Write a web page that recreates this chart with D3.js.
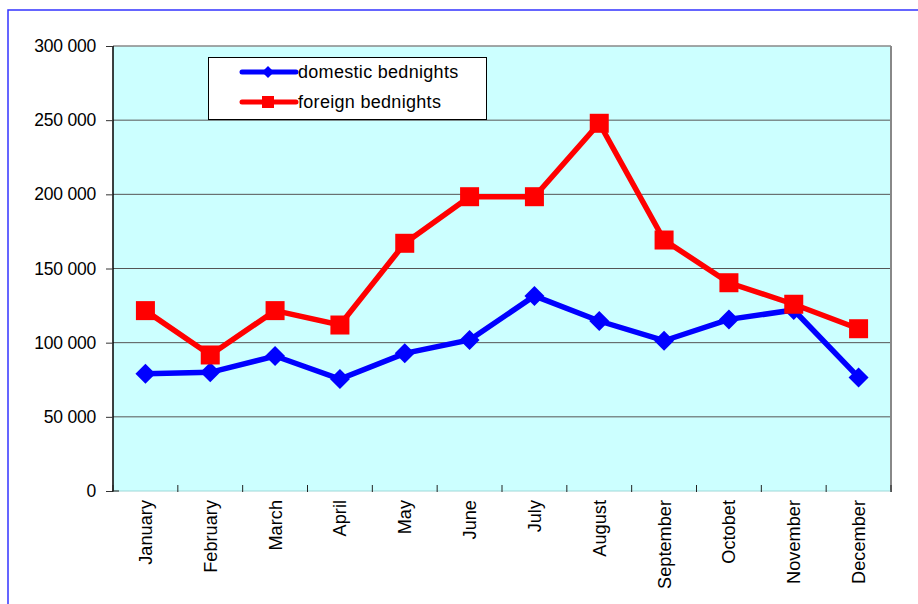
<!DOCTYPE html>
<html>
<head>
<meta charset="utf-8">
<script src="https://cdn.jsdelivr.net/npm/d3@7"></script>
<style>
  html, body { margin: 0; padding: 0; background: #fff; }
  svg { display: block; font-family: "Liberation Sans", Arial, sans-serif; }
</style>
</head>
<body>
<svg id="chart" width="918" height="604"></svg>
<script>
const months = ["January","February","March","April","May","June","July","August","September","Octobet","November","December"];
const domestic = [79000, 80000, 91000, 75500, 92800, 101800, 131500, 114600, 101300, 115700, 122000, 76600];
const foreign = [121600, 91700, 121600, 111900, 167000, 198400, 198400, 247900, 169200, 140400, 125900, 109400];
const yTicks = [0, 50000, 100000, 150000, 200000, 250000, 300000];
const seriesNames = ["domestic bednights", "foreign bednights"];

const svg = d3.select("#chart");
const pL = 113, pR = 891, pT = 46, pB = 491;

const x = d3.scaleBand().domain(months).range([pL, pR]);
const y = d3.scaleLinear().domain([0, 300000]).range([pB, pT]);
const fmt = v => v === 0 ? "0" : d3.format(",")(v).replace(/,/g, " ");

// outer frame
svg.append("rect").attr("x", 8).attr("y", 10).attr("width", 1000).attr("height", 700)
  .attr("fill", "none").attr("stroke", "#3333ff").attr("stroke-width", 1.5);

// plot background
svg.append("rect").attr("x", pL).attr("y", pT).attr("width", pR - pL).attr("height", pB - pT)
  .attr("fill", "#ccffff");

// gridlines
svg.append("g").selectAll("line").data(yTicks.filter(d => d > 0 && d < 300000)).join("line")
  .attr("x1", pL).attr("x2", pR)
  .attr("y1", d => y(d)).attr("y2", d => y(d))
  .attr("stroke", "#555").attr("stroke-width", 1);

// plot border top & right
svg.append("line").attr("x1", pL).attr("x2", pR).attr("y1", pT).attr("y2", pT)
  .attr("stroke", "#888").attr("stroke-width", 1.5);
svg.append("line").attr("x1", pR).attr("x2", pR).attr("y1", pT).attr("y2", pB + 1)
  .attr("stroke", "#888").attr("stroke-width", 2);
// bottom edge
svg.append("line").attr("x1", pL).attr("x2", pR).attr("y1", pB).attr("y2", pB)
  .attr("stroke", "#9fd8d8").attr("stroke-width", 1);

// y axis
const yAxis = d3.axisLeft(y).tickValues(yTicks).tickFormat(fmt).tickSize(7).tickPadding(10);
const gy = svg.append("g").attr("transform", `translate(${pL},0)`).call(yAxis);
gy.attr("font-size", null).attr("font-family", null);
gy.select(".domain").attr("stroke", "#000").attr("stroke-width", 1.5).attr("d", `M0,${pT}V${pB}`);
gy.selectAll(".tick line").attr("stroke", "#333");
gy.selectAll(".tick text").attr("font-size", 17.5).attr("fill", "#000")
  .attr("font-family", "'Liberation Sans', Arial, sans-serif").attr("letter-spacing", -0.2);

// x ticks at band boundaries (inward)
const bounds = months.map(m => x(m)).concat([pR]);
svg.append("g").selectAll("line").data(bounds).join("line")
  .attr("x1", d => d).attr("x2", d => d).attr("y1", pB - 6).attr("y2", pB + 1)
  .attr("stroke", "#222").attr("stroke-width", 1);
svg.append("line").attr("x1", pL - 1).attr("x2", pL + 6).attr("y1", pB).attr("y2", pB)
  .attr("stroke", "#222").attr("stroke-width", 1);

// x labels
svg.append("g").selectAll("text").data(months).join("text")
  .attr("transform", d => `translate(${x(d) + x.bandwidth() / 2 + 6.5},${pB + 9}) rotate(-90)`)
  .attr("text-anchor", "end")
  .attr("font-size", 18.2).attr("fill", "#000")
  .text(d => d);

const cx = d => x(d) + x.bandwidth() / 2;
const line = d3.line().x((d, i) => cx(months[i])).y(d => y(d));

// foreign series
svg.append("path").datum(foreign).attr("d", line)
  .attr("fill", "none").attr("stroke", "#ff0000").attr("stroke-width", 5.5).attr("stroke-linejoin", "miter");
// domestic series
svg.append("path").datum(domestic).attr("d", line)
  .attr("fill", "none").attr("stroke", "#0000ff").attr("stroke-width", 5.5).attr("stroke-linejoin", "miter");

const diamond = s => `M0,${-s}L${s},0L0,${s}L${-s},0Z`;
svg.append("g").selectAll("path").data(domestic).join("path")
  .attr("transform", (d, i) => `translate(${cx(months[i])},${y(d)})`)
  .attr("d", diamond(10)).attr("fill", "#0000ff");
svg.append("g").selectAll("rect").data(foreign).join("rect")
  .attr("x", (d, i) => cx(months[i]) - 9.5).attr("y", d => y(d) - 9.5)
  .attr("width", 19).attr("height", 19).attr("fill", "#ff0000");

// legend
const lg = svg.append("g");
lg.append("rect").attr("x", 208.5).attr("y", 57.5).attr("width", 278).attr("height", 62)
  .attr("fill", "#fff").attr("stroke", "#000").attr("stroke-width", 1);
const rows = [
  { name: seriesNames[0], color: "#0000ff", y: 72, shape: "diamond" },
  { name: seriesNames[1], color: "#ff0000", y: 102, shape: "square" }
];
rows.forEach(r => {
  lg.append("line").attr("x1", 242).attr("x2", 296).attr("y1", r.y).attr("y2", r.y)
    .attr("stroke", r.color).attr("stroke-width", 5).attr("stroke-linecap", "round");
  if (r.shape === "diamond") {
    lg.append("path").attr("transform", `translate(268,${r.y})`).attr("d", diamond(6)).attr("fill", r.color);
  } else {
    lg.append("rect").attr("x", 262).attr("y", r.y - 6).attr("width", 12).attr("height", 12).attr("fill", r.color);
  }
  lg.append("text").attr("x", 298).attr("y", r.y + 6).attr("font-size", 18).attr("letter-spacing", 0.3)
    .attr("fill", "#000").text(r.name);
});
</script>
</body>
</html>
